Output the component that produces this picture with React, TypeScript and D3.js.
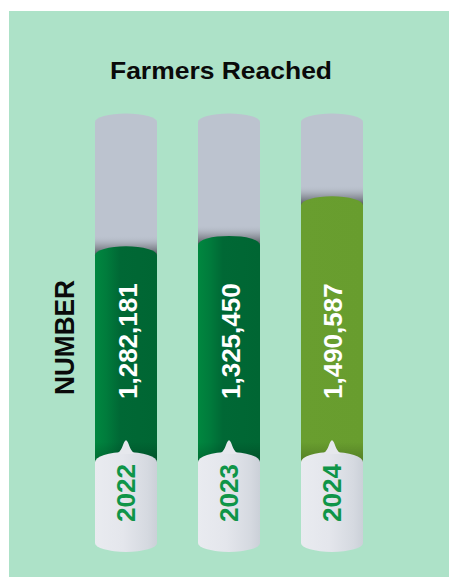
import React from "react";
import * as d3 from "d3";

const years = ["2022", "2023", "2024"];
const values = [1282181, 1325450, 1490587];
const labels = ["1,282,181", "1,325,450", "1,490,587"];
const title = "Farmers Reached";
const axisTitle = "NUMBER";

const W = 449;
const H = 577;
const FONT = "'Liberation Sans', Arial, Helvetica, sans-serif";

export default function App() {
  const x = d3.scaleBand<string>().domain(years).range([95, 363]).paddingInner(0.398).paddingOuter(0);
  const y = d3.scaleLinear().domain([1200000, 1500000]).range([266, 194]);
  const bw = x.bandwidth();
  const rx = bw / 2;
  const topSide = 122;
  const capTopSide = 462;
  const capBottomSide = 543;

  return (
    <svg
      width={W}
      height={H}
      viewBox={`0 0 ${W} ${H}`}
      style={{ position: "absolute", left: 0, top: 0, display: "block" }}
    >
      <defs>
        <linearGradient id="gDark" x1="0" x2="1" y1="0" y2="0">
          <stop offset="0" stopColor="#00873f" />
          <stop offset="0.18" stopColor="#007c3c" />
          <stop offset="0.4" stopColor="#006835" />
          <stop offset="1" stopColor="#006633" />
        </linearGradient>
        <linearGradient id="gOlive" x1="0" x2="1" y1="0" y2="0">
          <stop offset="0" stopColor="#699e2f" />
          <stop offset="1" stopColor="#689d2e" />
        </linearGradient>
        <linearGradient id="gCap" x1="0" x2="1" y1="0" y2="0">
          <stop offset="0" stopColor="#e9ebf0" />
          <stop offset="0.45" stopColor="#e4e6ec" />
          <stop offset="0.85" stopColor="#d5d9e0" />
          <stop offset="1" stopColor="#cbd0d8" />
        </linearGradient>
        <linearGradient id="gShade" x1="0" x2="0" y1="0" y2="1">
          <stop offset="0" stopColor="#bcc3cf" stopOpacity="0" />
          <stop offset="0.5" stopColor="#8d929b" stopOpacity="0.7" />
          <stop offset="1" stopColor="#4f5258" stopOpacity="1" />
        </linearGradient>
        <linearGradient id="gCapShade" x1="0" x2="0" y1="0" y2="1">
          <stop offset="0" stopColor="#000" stopOpacity="0" />
          <stop offset="1" stopColor="#000" stopOpacity="0.22" />
        </linearGradient>
      </defs>

      <rect x={9} y={11} width={W - 9} height={H - 11} fill="#ade2c8" />

      <text
        x={221}
        y={78.5}
        textAnchor="middle"
        fontFamily={FONT}
        fontWeight="bold"
        fontSize={24}
        textLength={222}
        lengthAdjust="spacingAndGlyphs"
        fill="#0a0a0a"
      >
        {title}
      </text>

      <text
        transform={`translate(73.5, 337.5) rotate(-90)`}
        textAnchor="middle"
        fontFamily={FONT}
        fontWeight="bold"
        fontSize={27}
        textLength={115}
        lengthAdjust="spacingAndGlyphs"
        fill="#0a0a0a"
      >
        {axisTitle}
      </text>

      {years.map((yr, i) => {
        const x0 = x(yr) as number;
        const x1 = x0 + bw;
        const cx = x0 + rx;
        const gTop = y(values[i]);
        const gRy = 9;
        const gSide = gTop + gRy;
        const fill = i === 2 ? "url(#gOlive)" : "url(#gDark)";
        return (
          <g key={yr}>
            <path
              d={`M${x0},${topSide} A${rx},8.5 0 0 1 ${x1},${topSide} L${x1},${gSide + 2} L${x0},${gSide + 2} Z`}
              fill="#bcc3cf"
            />
            <rect x={x0} y={gSide - 20} width={bw} height={20} fill="url(#gShade)" />
            <path
              d={`M${x0},${gSide} A${rx},${gRy} 0 0 1 ${x1},${gSide} L${x1},470 L${x0},470 Z`}
              fill={fill}
            />
            <rect x={x0} y={442} width={bw} height={22} fill="url(#gCapShade)" />
            <text
              transform={`translate(${cx + 10.5}, 399) rotate(-90)`}
              textAnchor="start"
              fontFamily={FONT}
              fontWeight="bold"
              fontSize={26}
              fill="#ffffff"
            >
              {labels[i]}
            </text>
            <path
              d={`M${x0},${capTopSide} A${rx},10 0 0 1 ${x1},${capTopSide} L${x1},${capBottomSide} A${rx},9 0 0 1 ${x0},${capBottomSide} Z`}
              fill="url(#gCap)"
            />
            <path
              d={`M${cx - 10},${454} C${cx - 4},${452} ${cx - 3.5},${444} ${cx - 1},${441} Q${cx},${439.5} ${cx + 1},${441} C${cx + 3.5},${444} ${cx + 4},${452} ${cx + 10},${454} Z`}
              fill="#e6e8ed"
            />
            <text
              transform={`translate(${cx + 9}, 493) rotate(-90)`}
              textAnchor="middle"
              fontFamily={FONT}
              fontWeight="bold"
              fontSize={26}
              fill="#0f9548"
            >
              {yr}
            </text>
          </g>
        );
      })}
    </svg>
  );
}
